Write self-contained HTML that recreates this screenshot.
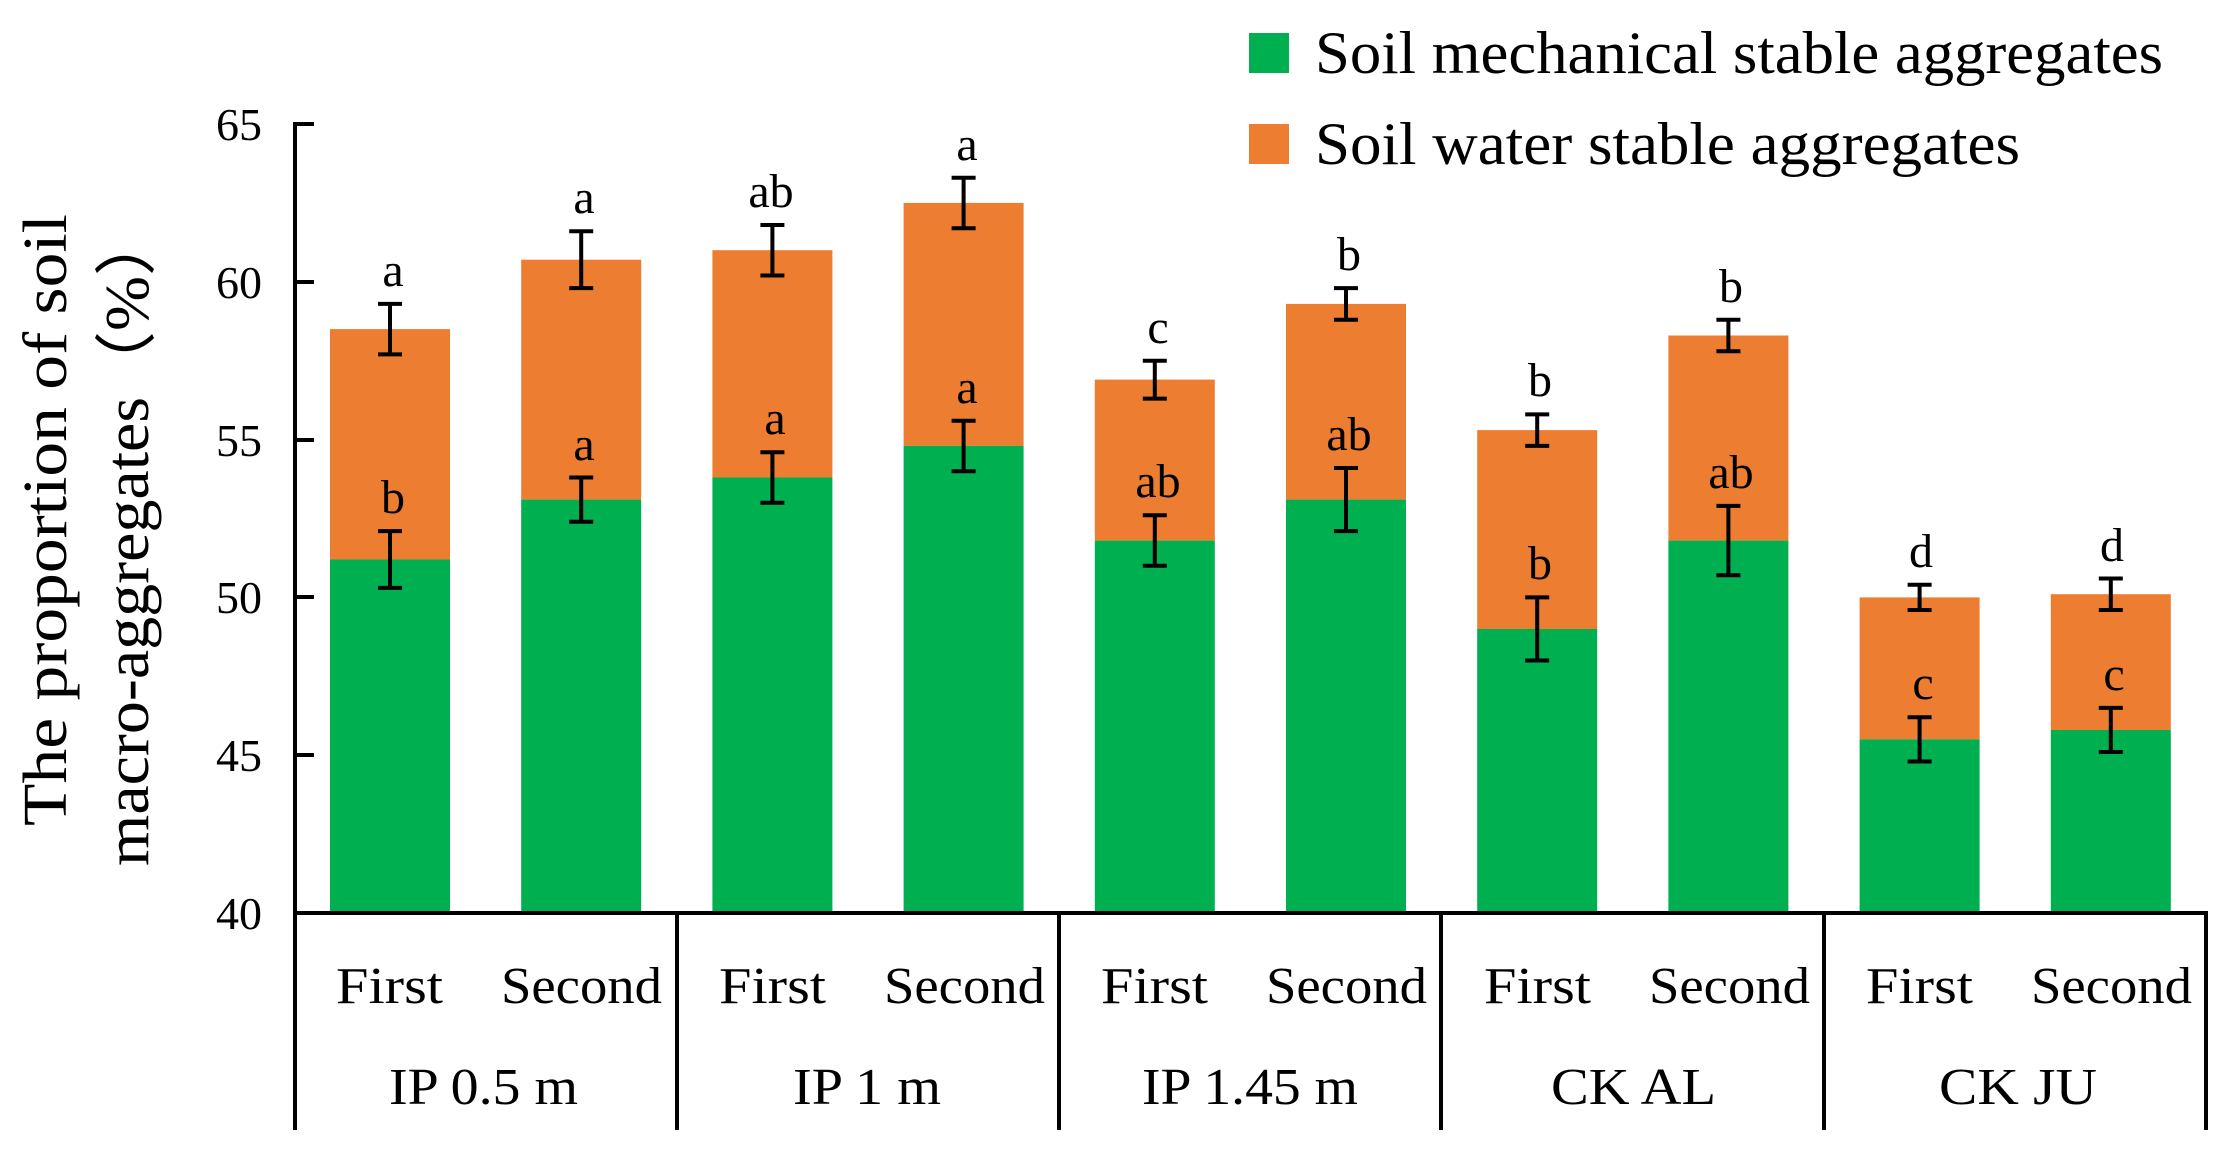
<!DOCTYPE html>
<html><head><meta charset="utf-8"><style>html,body{margin:0;padding:0;background:#fff}svg{display:block}</style></head>
<body>
<svg width="2228" height="1156" viewBox="0 0 2228 1156" xmlns="http://www.w3.org/2000/svg" font-family="'Liberation Serif', serif">
<rect width="2228" height="1156" fill="#fff"/>
<rect x="1249" y="33" width="40" height="40" fill="#00AF50"/>
<rect x="1249" y="124" width="40" height="40" fill="#ED7D31"/>
<text x="1315" y="73" font-size="60" textLength="848" lengthAdjust="spacingAndGlyphs">Soil mechanical stable aggregates</text>
<text x="1315" y="164" font-size="60" textLength="705" lengthAdjust="spacingAndGlyphs">Soil water stable aggregates</text>
<text transform="translate(66,520) rotate(-90)" text-anchor="middle" font-size="62" textLength="612" lengthAdjust="spacingAndGlyphs">The proportion of soil</text>
<text transform="translate(148,538) rotate(-90)" text-anchor="middle" font-size="62" textLength="656" lengthAdjust="spacingAndGlyphs">macro-aggregates（%）</text>

<g fill="#ED7D31">
<rect x="330" y="329.1" width="120" height="230.4"/>
<rect x="521.2" y="259.7" width="120" height="239.9"/>
<rect x="712.4" y="250.2" width="120" height="227.3"/>
<rect x="903.6" y="202.9" width="120" height="243"/>
<rect x="1094.8" y="379.6" width="120" height="161"/>
<rect x="1286" y="303.9" width="120" height="195.7"/>
<rect x="1477.2" y="430.1" width="120" height="198.9"/>
<rect x="1668.4" y="335.5" width="120" height="205.1"/>
<rect x="1859.6" y="597.4" width="120" height="142"/>
<rect x="2050.8" y="594.2" width="120" height="135.8"/>
</g>
<g fill="#00AF50">
<rect x="330" y="559.5" width="120" height="353.5"/>
<rect x="521.2" y="499.6" width="120" height="413.4"/>
<rect x="712.4" y="477.5" width="120" height="435.5"/>
<rect x="903.6" y="445.9" width="120" height="467.1"/>
<rect x="1094.8" y="540.6" width="120" height="372.4"/>
<rect x="1286" y="499.6" width="120" height="413.4"/>
<rect x="1477.2" y="629" width="120" height="284"/>
<rect x="1668.4" y="540.6" width="120" height="372.4"/>
<rect x="1859.6" y="739.4" width="120" height="173.6"/>
<rect x="2050.8" y="730" width="120" height="183"/>
</g>
<g stroke="#000" stroke-width="4" fill="none">
<path d="M390 531.1V587.9M378 531.1H402M378 587.9H402 M390 303.9V354.4M378 303.9H402M378 354.4H402"/>
<path d="M581.2 477.5V521.7M569.2 477.5H593.2M569.2 521.7H593.2 M581.2 231.3V288.1M569.2 231.3H593.2M569.2 288.1H593.2"/>
<path d="M772.4 452.2V502.7M760.4 452.2H784.4M760.4 502.7H784.4 M772.4 225V275.5M760.4 225H784.4M760.4 275.5H784.4"/>
<path d="M963.6 420.7V471.2M951.6 420.7H975.6M951.6 471.2H975.6 M963.6 177.7V228.2M951.6 177.7H975.6M951.6 228.2H975.6"/>
<path d="M1154.8 515.3V565.8M1142.8 515.3H1166.8M1142.8 565.8H1166.8 M1154.8 360.7V398.6M1142.8 360.7H1166.8M1142.8 398.6H1166.8"/>
<path d="M1346 468V531.1M1334 468H1358M1334 531.1H1358 M1346 288.1V319.7M1334 288.1H1358M1334 319.7H1358"/>
<path d="M1537.2 597.4V660.5M1525.2 597.4H1549.2M1525.2 660.5H1549.2 M1537.2 414.4V445.9M1525.2 414.4H1549.2M1525.2 445.9H1549.2"/>
<path d="M1728.4 505.9V575.3M1716.4 505.9H1740.4M1716.4 575.3H1740.4 M1728.4 319.7V351.2M1716.4 319.7H1740.4M1716.4 351.2H1740.4"/>
<path d="M1919.6 717.3V761.5M1907.6 717.3H1931.6M1907.6 761.5H1931.6 M1919.6 584.8V610M1907.6 584.8H1931.6M1907.6 610H1931.6"/>
<path d="M2110.8 707.9V752M2098.8 707.9H2122.8M2098.8 752H2122.8 M2110.8 578.5V610M2098.8 578.5H2122.8M2098.8 610H2122.8"/>
</g>
<g font-size="48" text-anchor="middle">
<text x="393" y="513">b</text><text x="393" y="286">a</text>
<text x="584" y="460">a</text><text x="584" y="213">a</text>
<text x="775" y="434">a</text><text x="771" y="207">ab</text>
<text x="967" y="403">a</text><text x="967" y="160">a</text>
<text x="1158" y="497">ab</text><text x="1158" y="343">c</text>
<text x="1349" y="450">ab</text><text x="1349" y="270">b</text>
<text x="1540" y="579">b</text><text x="1540" y="396">b</text>
<text x="1731" y="488">ab</text><text x="1731" y="302">b</text>
<text x="1923" y="699">c</text><text x="1921" y="567">d</text>
<text x="2114" y="690">c</text><text x="2112" y="561">d</text>
</g>

<g stroke="#000" stroke-width="4" fill="none">
<line x1="295" y1="122" x2="295" y2="1130"/>
<line x1="293" y1="913" x2="2208" y2="913"/>
<line x1="677" y1="913" x2="677" y2="1130"/>
<line x1="1059" y1="913" x2="1059" y2="1130"/>
<line x1="1441" y1="913" x2="1441" y2="1130"/>
<line x1="1824" y1="913" x2="1824" y2="1130"/>
<line x1="2206" y1="913" x2="2206" y2="1130"/>
<line x1="295" y1="124" x2="314" y2="124"/>
<line x1="295" y1="282" x2="314" y2="282"/>
<line x1="295" y1="440" x2="314" y2="440"/>
<line x1="295" y1="597" x2="314" y2="597"/>
<line x1="295" y1="755" x2="314" y2="755"/>
</g>
<g font-size="46" text-anchor="end">
<text x="262" y="140">65</text><text x="262" y="298">60</text><text x="262" y="456">55</text>
<text x="262" y="613">50</text><text x="262" y="771">45</text><text x="262" y="929">40</text>
</g>
<g font-size="52">
<text x="336" y="1003" textLength="107" lengthAdjust="spacingAndGlyphs">First</text>
<text x="501" y="1003" textLength="161" lengthAdjust="spacingAndGlyphs">Second</text>
<text x="719" y="1003" textLength="107" lengthAdjust="spacingAndGlyphs">First</text>
<text x="884" y="1003" textLength="161" lengthAdjust="spacingAndGlyphs">Second</text>
<text x="1101" y="1003" textLength="107" lengthAdjust="spacingAndGlyphs">First</text>
<text x="1266" y="1003" textLength="161" lengthAdjust="spacingAndGlyphs">Second</text>
<text x="1484" y="1003" textLength="107" lengthAdjust="spacingAndGlyphs">First</text>
<text x="1649" y="1003" textLength="161" lengthAdjust="spacingAndGlyphs">Second</text>
<text x="1866" y="1003" textLength="107" lengthAdjust="spacingAndGlyphs">First</text>
<text x="2031" y="1003" textLength="161" lengthAdjust="spacingAndGlyphs">Second</text>
</g>
<g font-size="52">
<text x="389" y="1104" textLength="189" lengthAdjust="spacingAndGlyphs">IP 0.5 m</text>
<text x="793" y="1104" textLength="148" lengthAdjust="spacingAndGlyphs">IP 1 m</text>
<text x="1142" y="1104" textLength="216" lengthAdjust="spacingAndGlyphs">IP 1.45 m</text>
<text x="1551" y="1104" textLength="165" lengthAdjust="spacingAndGlyphs">CK AL</text>
<text x="1939" y="1104" textLength="158" lengthAdjust="spacingAndGlyphs">CK JU</text>
</g>
</svg>
</body></html>
